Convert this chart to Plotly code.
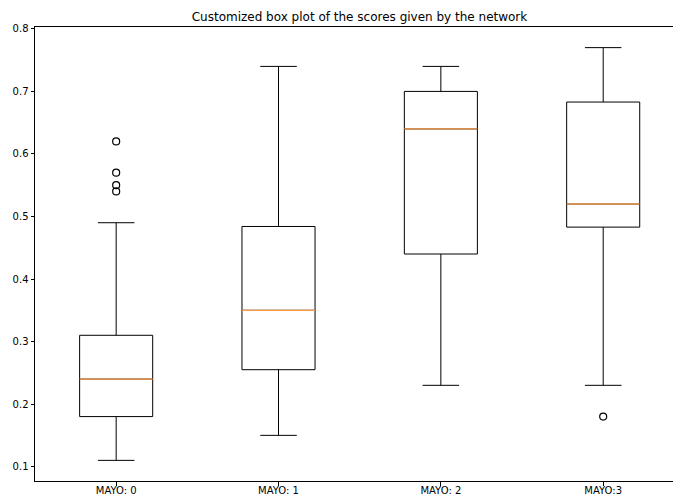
import plotly.graph_objects as go

categories = ["MAYO: 0", "MAYO: 1", "MAYO: 2", "MAYO:3"]
lower_whisker = [0.11, 0.15, 0.23, 0.23]
q1 = [0.18, 0.255, 0.44, 0.483]
median = [0.24, 0.35, 0.64, 0.52]
q3 = [0.31, 0.484, 0.70, 0.683]
upper_whisker = [0.49, 0.74, 0.74, 0.77]
outliers = [[0.62, 0.57, 0.55, 0.54], [], [], [0.18]]

BOX_W = 0.45
positions = list(range(1, len(categories) + 1))

fig = go.Figure()
fig.add_trace(go.Box(
    x=positions, q1=q1, median=median, q3=q3,
    lowerfence=lower_whisker, upperfence=upper_whisker,
    width=BOX_W, whiskerwidth=0.5,
    line=dict(color="black", width=1), fillcolor="rgba(0,0,0,0)",
    boxpoints=False, showlegend=False, hoverinfo="skip",
))

for p, m in zip(positions, median):
    fig.add_trace(go.Scatter(
        x=[p - BOX_W / 2, p + BOX_W / 2], y=[m, m], mode="lines",
        line=dict(color="#ff9a45", width=1.2), showlegend=False, hoverinfo="skip",
    ))

ox, oy = [], []
for p, vals in zip(positions, outliers):
    for v in vals:
        ox.append(p)
        oy.append(v)
fig.add_trace(go.Scatter(
    x=ox, y=oy, mode="markers", xaxis="x2",
    marker=dict(symbol="circle-open", size=7, color="black", line=dict(width=1.2)),
    showlegend=False, hoverinfo="skip",
))

fig.update_layout(
    width=673, height=495,
    margin=dict(l=35, r=0, t=27, b=14),
    paper_bgcolor="white", plot_bgcolor="white",
    font=dict(family="DejaVu Sans", size=10, color="black"),
    title=dict(text="Customized box plot of the scores given by the network",
               x=0.5086, xref="paper", xanchor="center", y=1, yref="container",
               yanchor="top", pad=dict(t=13), font=dict(size=12, color="black")),
    xaxis=dict(
        range=[0.5, 4.43], tickvals=positions, ticktext=categories,
        showgrid=False, zeroline=False, showline=True, linecolor="black", linewidth=1,
        mirror=True, ticks="", automargin=False, ticklabelstandoff=0,
    ),
    xaxis2=dict(
        overlaying="x", matches="x", side="bottom", tickvals=positions,
        showticklabels=False, showgrid=False, zeroline=False, showline=False,
        ticks="outside", ticklen=3.5, tickwidth=1, tickcolor="black", automargin=False,
    ),
)
fig.update_yaxes(
    range=[0.077, 0.803], tickvals=[0.1, 0.2, 0.3, 0.4, 0.5, 0.6, 0.7, 0.8],
    ticktext=["0.1", "0.2", "0.3", "0.4", "0.5", "0.6", "0.7", "0.8"],
    showgrid=False, zeroline=False, showline=True, linecolor="black", linewidth=1,
    ticks="outside", ticklen=3.5, tickcolor="black", automargin=False,
)

fig.write_html(
    "out.html",
    config={"displayModeBar": False},
    post_script="document.body.style.margin='0';document.body.style.overflow='hidden';",
)
